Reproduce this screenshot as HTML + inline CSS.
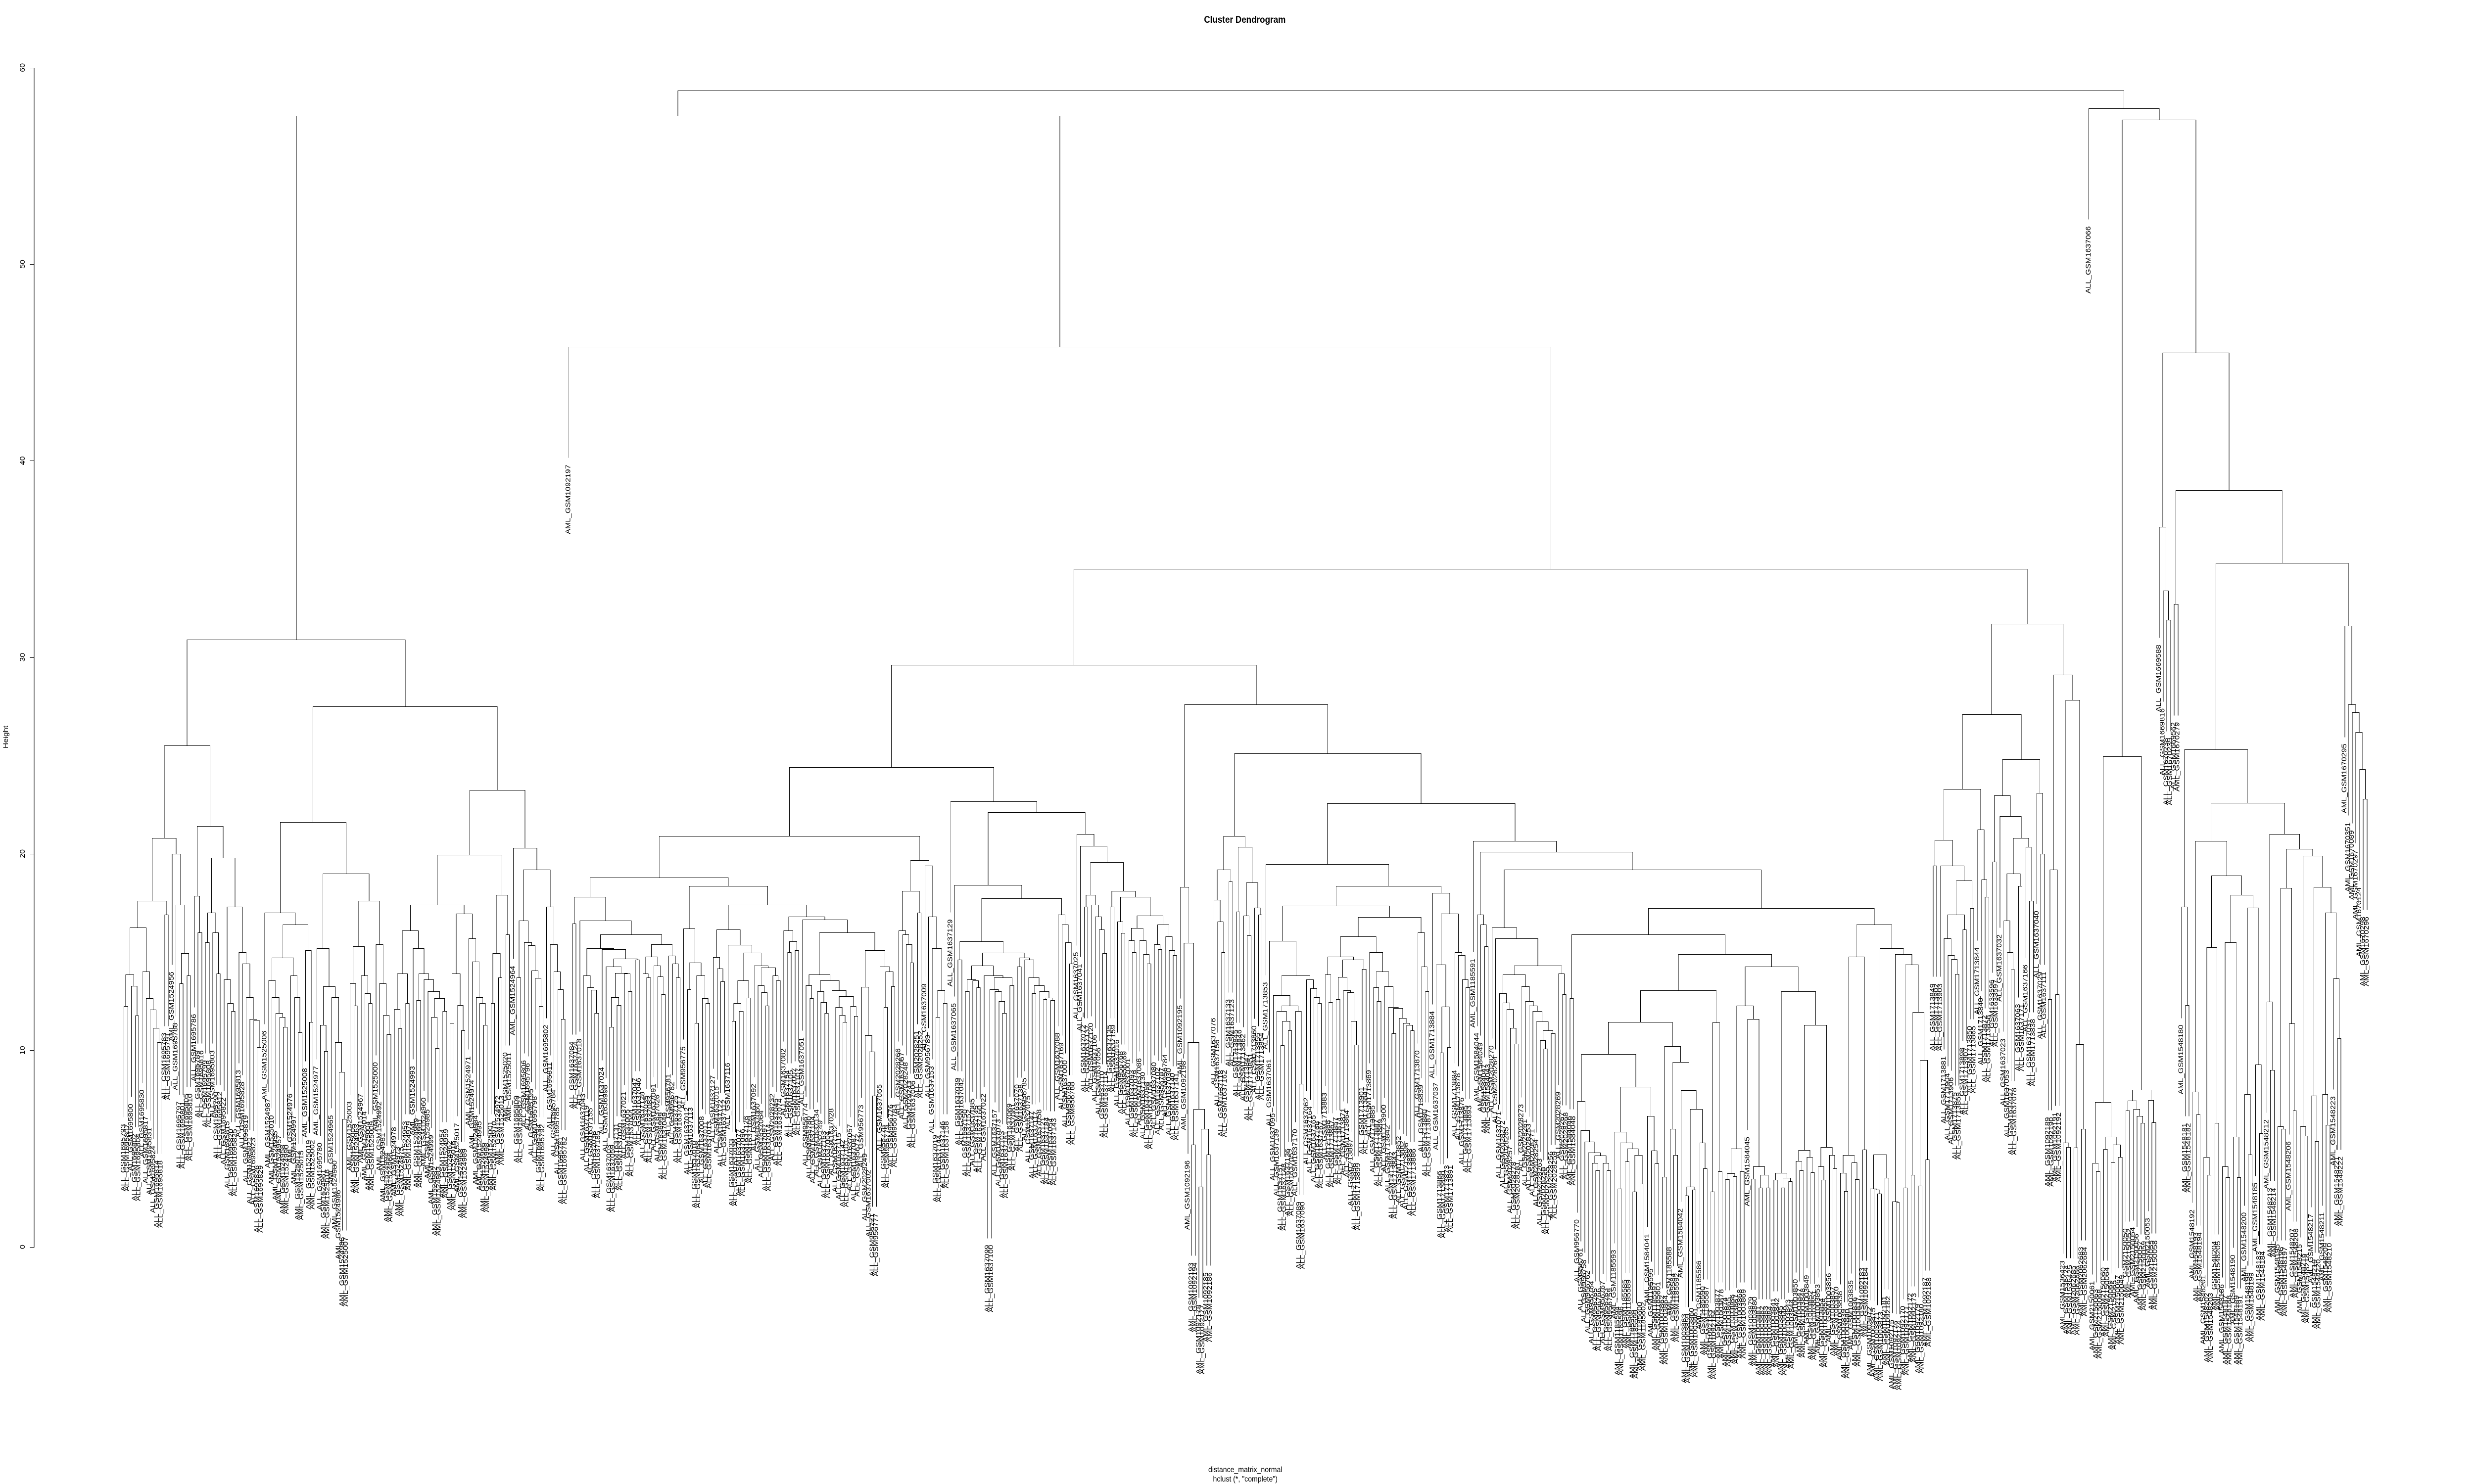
<!DOCTYPE html>
<html lang="en">
<head>
<meta charset="utf-8">
<title>Cluster Dendrogram</title>
<style>
html,body{margin:0;padding:0;background:#fff;width:100%;height:100%;overflow:hidden}
svg{display:block;width:100vw;height:100vh}
text{font-family:"Liberation Sans",sans-serif;fill:#000}
</style>
</head>
<body>
<svg id="chart" xmlns="http://www.w3.org/2000/svg" viewBox="0 0 5680 3000" preserveAspectRatio="none">
<rect width="5680" height="3000" fill="#fff"/>
<text x="2858" y="46" text-anchor="middle" font-size="19.4" font-weight="bold">Cluster Dendrogram</text>
<text x="2859" y="2976" text-anchor="middle" font-size="16">distance_matrix_normal</text>
<text x="2859" y="2995" text-anchor="middle" font-size="16">hclust (*, "complete")</text>
<text transform="translate(18 1490) rotate(-90)" text-anchor="middle" font-size="16">Height</text>
<g id="axis"></g>
<g id="branches" fill="none" stroke="#000" stroke-width="1" shape-rendering="crispEdges"></g>
<g id="labels" font-size="16"></g>
</svg>
<script>
const yTickValues=[0,10,20,30,40,50,60];
const leafLabels=("ALL_GSM1695793 ALL_GSM1695807 ALL_GSM1695800 ALL_GSM1695802 ALL_GSM1695804 ALL_GSM1695830 ALL_GSM1695817 ALL_GSM1695831 ALL_GSM1695824 ALL_GSM1695814 ALL_GSM1695818 ALL_GSM1695783 ALL_GSM1695791 AML_GSM1524956 ALL_GSM1695788 ALL_GSM1695797 ALL_GSM1695801 ALL_GSM1695805 ALL_GSM1695810 ALL_GSM1695786 ALL_GSM1695789 ALL_GSM1695816 ALL_GSM1695799 ALL_GSM1695808 ALL_GSM1695803 ALL_GSM1695790 ALL_GSM1695812 ALL_GSM1695822 ALL_GSM1695815 ALL_GSM1695820 ALL_GSM1695825 ALL_GSM1695813 ALL_GSM1695828 ALL_GSM1695819 ALL_GSM1695821 ALL_GSM1695823 ALL_GSM1695826 ALL_GSM1695829 "+
"AML_GSM1525006 AML_GSM1524987 AML_GSM1525010 AML_GSM1524955 AML_GSM1524957 AML_GSM1524958 AML_GSM1524990 AML_GSM1524976 AML_GSM1524997 AML_GSM1525012 AML_GSM1525015 AML_GSM1525008 AML_GSM1525019 AML_GSM1525002 AML_GSM1524977 ALL_GSM1695780 AML_GSM1524961 AML_GSM1525018 AML_GSM1524965 AML_GSM1524980 AML_GSM1524986 AML_GSM1524988 AML_GSM1525007 AML_GSM1525003 AML_GSM1525005 AML_GSM1524963 AML_GSM1524967 AML_GSM1525014 AML_GSM1525004 AML_GSM1525009 AML_GSM1525000 AML_GSM1524992 AML_GSM1524981 AML_GSM1524994 AML_GSM1524966 "+
"AML_GSM1524978 AML_GSM1524973 AML_GSM1524975 AML_GSM1524953 AML_GSM1524979 AML_GSM1524993 AML_GSM1524969 AML_GSM1524991 AML_GSM1524960 AML_GSM1524985 AML_GSM1524999 AML_GSM1524982 AML_GSM1524983 AML_GSM1524954 AML_GSM1524959 AML_GSM1524962 AML_GSM1525016 AML_GSM1525017 AML_GSM1524968 AML_GSM1524989 AML_GSM1524971 AML_GSM1524974 AML_GSM1524984 AML_GSM1524995 AML_GSM1524996 AML_GSM1524998 AML_GSM1525001 AML_GSM1524970 AML_GSM1524972 AML_GSM1525013 AML_GSM1525020 AML_GSM1525011 AML_GSM1524964 ALL_GSM1695809 ALL_GSM1695827 ALL_GSM1695806 ALL_GSM1695796 ALL_GSM1695795 ALL_GSM1695798 ALL_GSM1695794 ALL_GSM1695792 ALL_GSM1695802 ALL_GSM1695811 ALL_GSM1695784 ALL_GSM1695785 ALL_GSM1695781 ALL_GSM1695782 "+
"AML_GSM1092197 "+
"ALL_GSM1637084 ALL_GSM1637124 ALL_GSM1637018 ALL_GSM1637043 ALL_GSM1637119 ALL_GSM1637155 ALL_GSM1637036 ALL_GSM1637185 ALL_GSM1637024 ALL_GSM1636998 ALL_GSM1637003 ALL_GSM1637059 ALL_GSM1637131 ALL_GSM1637020 ALL_GSM1637021 ALL_GSM1637005 ALL_GSM1637044 ALL_GSM1637047 ALL_GSM1637046 ALL_GSM1637128 ALL_GSM1637035 ALL_GSM1637083 ALL_GSM1637091 ALL_GSM1637026 ALL_GSM1636999 ALL_GSM1637049 ALL_GSM956781 ALL_GSM956782 ALL_GSM1637125 ALL_GSM1637017 "+
"ALL_GSM956775 ALL_GSM1637012 ALL_GSM1637113 ALL_GSM1637010 ALL_GSM1637068 ALL_GSM1637008 ALL_GSM1637011 ALL_GSM1637013 ALL_GSM1637127 ALL_GSM1637015 ALL_GSM1637122 ALL_GSM1637112 ALL_GSM1637116 ALL_GSM1637033 ALL_GSM1637038 ALL_GSM1637077 ALL_GSM1637096 ALL_GSM1637126 ALL_GSM1637109 ALL_GSM1637092 ALL_GSM1637060 ALL_GSM1637064 ALL_GSM1637097 ALL_GSM1637014 ALL_GSM2028232 ALL_GSM1637045 ALL_GSM1637074 "+
"ALL_GSM1637082 ALL_GSM1637154 ALL_GSM1637105 ALL_GSM1637007 ALL_GSM1637107 ALL_GSM1637051 ALL_GSM956774 ALL_GSM956780 ALL_GSM1637104 ALL_GSM1637134 ALL_GSM1637149 ALL_GSM1637163 ALL_GSM1637004 ALL_GSM1637028 ALL_GSM1637132 ALL_GSM1637115 ALL_GSM1637142 ALL_GSM1637101 ALL_GSM1637057 ALL_GSM1637087 ALL_GSM956772 ALL_GSM956773 ALL_GSM2028249 ALL_GSM1637002 ALL_GSM956771 ALL_GSM956777 ALL_GSM1637055 ALL_GSM956778 ALL_GSM956779 ALL_GSM956776 ALL_GSM956783 "+
"ALL_GSM2028266 ALL_GSM1637067 ALL_GSM2028248 ALL_GSM2029243 ALL_GSM1637006 ALL_GSM2028251 ALL_GSM2028252 ALL_GSM1637009 ALL_GSM956789 ALL_GSM1637153 ALL_GSM1637019 ALL_GSM1637144 ALL_GSM1637146 ALL_GSM1637158 ALL_GSM1637129 "+
"ALL_GSM1637065 ALL_GSM1637039 ALL_GSM1637042 ALL_GSM1637150 ALL_GSM1637152 ALL_GSM1637085 ALL_GSM1637145 ALL_GSM1637160 ALL_GSM1637022 ALL_GSM1637099 ALL_GSM1637100 ALL_GSM1637157 ALL_GSM1637073 ALL_GSM1637103 ALL_GSM1637161 ALL_GSM1637069 ALL_GSM1637081 ALL_GSM1637070 ALL_GSM1637138 ALL_GSM956785 ALL_GSM1637075 ALL_GSM1637147 ALL_GSM1637117 ALL_GSM1637058 ALL_GSM1637121 ALL_GSM1637184 ALL_GSM1637054 ALL_GSM1637143 ALL_GSM1637088 ALL_GSM1637169 ALL_GSM1637000 ALL_GSM956786 ALL_GSM956788 "+
"ALL_GSM1637025 ALL_GSM1637041 ALL_GSM1637072 ALL_GSM1637137 ALL_GSM1637120 ALL_GSM1637106 ALL_GSM1637056 ALL_GSM1637110 ALL_GSM1637114 ALL_GSM1637135 ALL_GSM1637159 ALL_GSM1637016 ALL_GSM956768 ALL_GSM956769 ALL_GSM1637001 ALL_GSM1637093 ALL_GSM1637079 ALL_GSM1637086 ALL_GSM1637130 ALL_GSM1637098 ALL_GSM1637108 ALL_GSM1637080 ALL_GSM1637102 ALL_GSM956787 ALL_GSM956784 ALL_GSM1637030 ALL_GSM1637140 ALL_GSM1637141 "+
"AML_GSM1092195 AML_GSM1092198 AML_GSM1092196 AML_GSM1092193 AML_GSM1092194 AML_GSM1092178 AML_GSM1092177 AML_GSM1092185 AML_GSM1092186 "+
"ALL_GSM1637076 ALL_GSM1637156 ALL_GSM1637118 ALL_GSM1637162 ALL_GSM1637133 ALL_GSM1637123 ALL_GSM1713845 ALL_GSM1713846 ALL_GSM1713862 ALL_GSM1713847 ALL_GSM1713851 ALL_GSM1713860 ALL_GSM1713855 ALL_GSM1713854 ALL_GSM1713853 "+
"ALL_GSM1637061 ALL_GSM1637095 ALL_GSM1637139 ALL_GSM1637151 ALL_GSM1637148 ALL_GSM1637136 ALL_GSM1637052 ALL_GSM1637170 ALL_GSM1637089 ALL_GSM1637090 ALL_GSM1637062 ALL_GSM1637164 ALL_GSM1637165 ALL_GSM1637168 ALL_GSM1637167 "+
"ALL_GSM1713883 ALL_GSM1713868 ALL_GSM1713867 ALL_GSM1713857 ALL_GSM1713874 ALL_GSM1713871 ALL_GSM1713864 ALL_GSM1713897 ALL_GSM1713856 ALL_GSM1713899 ALL_GSM1713901 ALL_GSM1713841 ALL_GSM1713869 ALL_GSM1713885 ALL_GSM1713887 ALL_GSM1713889 ALL_GSM1713900 ALL_GSM1713842 ALL_GSM1713892 ALL_GSM1713843 ALL_GSM1713852 ALL_GSM1713882 ALL_GSM1713896 ALL_GSM1713888 ALL_GSM1713886 ALL_GSM1713870 ALL_GSM1713839 ALL_GSM1713880 ALL_GSM1713877 "+
"ALL_GSM1713884 ALL_GSM1637037 ALL_GSM1713866 ALL_GSM1713890 ALL_GSM1713873 ALL_GSM1713891 ALL_GSM1713894 ALL_GSM1713878 ALL_GSM1713876 ALL_GSM1713895 ALL_GSM1713893 "+
"AML_GSM1185591 AML_GSM1584044 AML_GSM1584049 AML_GSM1584047 AML_GSM1584043 ALL_GSM2028270 ALL_GSM2028264 ALL_GSM1637071 ALL_GSM2028272 ALL_GSM2028265 ALL_GSM2028257 ALL_GSM2028278 ALL_GSM2028281 ALL_GSM2028273 ALL_GSM2028261 ALL_GSM2028253 ALL_GSM2028271 ALL_GSM2028254 ALL_GSM2028263 ALL_GSM2028258 ALL_GSM2028255 ALL_GSM2028256 ALL_GSM2028259 ALL_GSM2028269 ALL_GSM2028267 ALL_GSM2028268 "+
"AML_GSM1584046 AML_GSM1584048 ALL_GSM956770 ALL_GSM956761 ALL_GSM956758 ALL_GSM956762 ALL_GSM956764 ALL_GSM956765 ALL_GSM956766 ALL_GSM956767 ALL_GSM956763 ALL_GSM956759 AML_GSM1185593 AML_GSM1185594 AML_GSM1185596 AML_GSM1185585 AML_GSM1185589 AML_GSM1185598 AML_GSM1185599 AML_GSM1185600 AML_GSM1185602 AML_GSM1584041 AML_GSM1185595 AML_GSM1185597 AML_GSM1185601 AML_GSM1003862 AML_GSM1003864 AML_GSM1185588 AML_GSM1185584 AML_GSM1185592 AML_GSM1584042 AML_GSM1003863 AML_GSM1003859 AML_GSM1003860 AML_GSM1003861 AML_GSM1185586 AML_GSM1185590 AML_GSM1185587 "+
"AML_GSM1092163 AML_GSM1092164 AML_GSM1003877 AML_GSM1003878 AML_GSM1003874 AML_GSM1003865 AML_GSM1003866 AML_GSM1003867 AML_GSM1003868 AML_GSM1003869 AML_GSM1584045 AML_GSM1003879 AML_GSM1003880 AML_GSM1003881 AML_GSM1003882 AML_GSM1003883 AML_GSM1003884 AML_GSM1003841 AML_GSM1003842 AML_GSM1003845 AML_GSM1003846 AML_GSM1003843 AML_GSM1003844 AML_GSM1003850 AML_GSM1003847 AML_GSM1003848 AML_GSM1003849 AML_GSM1003852 AML_GSM1003851 AML_GSM1003853 AML_GSM1003854 AML_GSM1003855 AML_GSM1003856 AML_GSM1003857 AML_GSM1003870 "+
"AML_GSM1003838 AML_GSM1003839 AML_GSM1003840 AML_GSM1003835 AML_GSM1003836 AML_GSM1003837 AML_GSM1092183 AML_GSM1092184 AML_GSM1003872 AML_GSM1003875 AML_GSM1003871 AML_GSM1003873 AML_GSM1092181 AML_GSM1092182 AML_GSM1092175 AML_GSM1092176 AML_GSM1092174 AML_GSM1092170 AML_GSM1092171 AML_GSM1092172 AML_GSM1092173 AML_GSM1092179 AML_GSM1092180 AML_GSM1092187 AML_GSM1092188 "+
"ALL_GSM1713849 ALL_GSM1713902 ALL_GSM1713903 ALL_GSM1713881 ALL_GSM1713904 ALL_GSM1713906 ALL_GSM1713875 ALL_GSM1713859 ALL_GSM1713898 ALL_GSM1713907 ALL_GSM1713850 ALL_GSM1713865 ALL_GSM1713844 ALL_GSM1713840 ALL_GSM1713872 ALL_GSM1713858 "+
"ALL_GSM1633596 ALL_GSM1633597 ALL_GSM1637032 ALL_GSM1637023 ALL_GSM1637053 ALL_GSM1637027 ALL_GSM1637078 ALL_GSM1637063 ALL_GSM1637171 ALL_GSM1637166 ALL_GSM1637031 ALL_GSM1713838 ALL_GSM1637040 ALL_GSM1637029 ALL_GSM1637111 "+
"AML_GSM1092189 AML_GSM1092190 AML_GSM1092191 AML_GSM1092192 AML_GSM1536423 AML_GSM1536424 AML_GSM1536425 AML_GSM2062685 AML_GSM2062686 AML_GSM2062683 AML_GSM2062684 ALL_GSM1637066 "+
"AML_GSM2150061 AML_GSM2150063 AML_GSM2150068 AML_GSM2150060 AML_GSM2150064 AML_GSM2150069 AML_GSM2150065 AML_GSM2150067 AML_GSM2150049 AML_GSM2150050 AML_GSM2150052 AML_GSM2150054 AML_GSM2150056 AML_GSM2150057 AML_GSM2150059 AML_GSM2150053 AML_GSM2150055 AML_GSM2150058 "+
"ALL_GSM1669588 ALL_GSM1669816 ALL_GSM1670238 ALL_GSM1670239 ALL_GSM1669562 AML_GSM1670279 AML_GSM1548180 AML_GSM1548181 AML_GSM1548182 AML_GSM1548192 AML_GSM1548193 AML_GSM1548194 AML_GSM1548201 AML_GSM1548202 AML_GSM1548203 AML_GSM1548204 AML_GSM1548205 AML_GSM1548186 AML_GSM1548187 AML_GSM1548188 AML_GSM1548190 AML_GSM1548189 AML_GSM1548191 AML_GSM1548200 AML_GSM1548198 AML_GSM1548199 AML_GSM1548185 AML_GSM1548183 AML_GSM1548184 AML_GSM1548212 AML_GSM1548213 AML_GSM1548214 AML_GSM1548195 AML_GSM1548196 AML_GSM1548197 AML_GSM1548206 AML_GSM1548207 AML_GSM1548208 AML_GSM1548215 AML_GSM1548216 AML_GSM1548218 AML_GSM1548217 AML_GSM1548219 AML_GSM1548220 AML_GSM1548211 AML_GSM1548209 AML_GSM1548210 AML_GSM1548223 AML_GSM1548221 AML_GSM1548222 "+
"AML_GSM1670295 AML_GSM1670351 AML_GSM1670089 AML_GSM1670297 AML_GSM1670124 AML_GSM1670298 AML_GSM1670296").split(" ");

// Merge heights as nested [height, left, right]; 0 marks the next leaf in dendrogram order.
const clusterA1=[25.5,
 [20.8,
  [17.6,
   [16.25,
    [13.86,[12.25,0,0],[13.28,0,[11.76,0,0]]],
    [14,0,[12.65,0,[12.07,0,[11.15,0,[10.4,0,0]]]]]],
   [16.9,0,0]],
  [20,0,[17.4,0,[14.94,[13.4,0,0],[13.8,0,0]]]]],
 [21.4,
  [17.85,0,[16,0,0]],
  [19.8,
   [17,[15.5,0,0],[16,0,[13.9,0,0]]],
   [17.3,
    [13.6,0,[12.4,0,[12,0,0]]],
    [15,0,[14.4,0,[12.7,0,[11.6,0,[11.55,0,[10.15,0,0]]]]]]]]]];
const clusterB=[21.6,
 [17,0,[16.4,
  [14.7,
   [13.55,0,[12.7,0,[11.9,0,[11.7,0,[11.2,0,0]]]]],
   [13.8,0,[12.7,0,[10.9,0,0]]]],
  [15.1,0,[11.44,0,0]]]],
 [19,
  [15.2,0,[13.25,
   [11.3,0,[9.95,0,0]],
   [12.7,0,[10.4,0,[8.9,0,[6.5,0,0]]]]]],
  [17.6,
   [15.3,
    [13.4,0,[12.26,0,0]],
    [13.8,0,[12.9,0,[12.4,0,0]]]],
   [15.4,0,[13.4,0,[11.8,0,[10.8,0,0]]]]]]];
const clusterC=[23.25,
 [19.95,
  [17.4,
   [16.1,
    [13.9,[12.1,0,[11.1,0,0]],[12.4,0,0]],
    [15.2,0,[13.9,[12.55,0,0],[13.6,0,[13,0,[12.65,[11.7,0,[10.1,0,0]],[12,0,0]]]]]]],
   [16.95,
    [13.9,[11.4,0,0],[12.3,0,[11,0,0]]],
    [15.7,0,[14.5,0,[12.7,0,[12.4,0,[11.3,0,0]]]]]]],
  [17.9,[14.95,[12.4,0,0],[13.7,0,0]],[15.9,0,0]]],
 [20.3,0,[19.2,
  [16.6,[13.7,0,0],[15.5,0,[15.35,0,[14.05,0,[13.67,0,[12.25,0,0]]]]]],
  [17.3,0,[15.4,0,[14,0,[13.1,0,[11.6,0,0]]]]]]]];
const clusterD1a=[17.8,[16.45,0,0],[16.6,0,[15.9,
 [15.2,
  [13.8,0,[13.2,0,[13.07,0,[11.9,0,0]]]],
  [15.15,0,[14.65,
   [14.25,0,[13.94,[12.7,[11.2,0,0],[12.3,0,0]],[13.9,0,[13,0,0]]]],
   [14.6,0,0]]]],
 [15.4,
  [14.75,[13.9,0,[13.7,0,0]],[14.3,0,[13.75,0,[12.85,0,0]]]],
  [14.8,0,[14.4,0,[13.7,0,0]]]]]]];
const clusterD1b=[18.35,
 [16.2,0,[14.46,[13.1,0,0],[13.8,[11.4,0,0],[12.65,0,[12.4,0,0]]]]],
 [17.4,
  [16.15,
   [14.73,0,[14.17,0,[13.5,0,0]]],
   [15.37,0,[14.96,
    [13.55,[12.4,[11.5,0,0],[12,0,0]],[12.67,0,0]],
    [14.3,0,[14.2,[13.3,0,[12.94,0,[12.26,0,0]]],[13.8,0,[13.55,0,0]]]]]]],
  [16.8,
   [16.1,0,[15.54,[15,0,0],[15.1,0,0]]],
   [16.66,0,[16,
    [13.85,
     [13.3,0,[12.65,0,0]],
     [13.55,[13,0,[12.44,0,[11.9,0,0]]],[13.05,0,[12.75,[12.2,0,[11.8,0,[11.45,0,0]]],[12.25,0,[11.75,0,0]]]]]],
    [15.1,
     [13.23,0,[10.76,0,[9.93,0,[7.7,0,0]]]],
     [14.27,0,[14,[12.2,0,0],[13.25,0,0]]]]]]]]];
const clusterD1c=[19.66,
 [18.1,[16.1,0,[15.9,0,[15.4,0,[14.46,0,0]]]],[17,0,0]],
 [19.4,0,[16.8,0,[15.2,0,[13.05,[11.7,0,0],[12.4,0,0]]]]]];
const clusterD2a=[18.4,0,[17.74,
 [15.54,
  [14.6,0,0],
  [14.96,
   [14.3,
    [13.6,[13,0,0],[13.55,0,[13.2,0,0]]],
    [13.8,0,[13.7,
     [13.1,[6.1,0,0],[13,0,[12.5,0,[11.9,0,0]]]],
     [13.3,0,0]]]],
   [14.7,[14.27,0,0],[14.6,0,[13.7,0,[13.3,[12.9,0,0],[13,0,[12.67,[12.6,0,0],[12.55,0,0]]]]]]]]],
 [16.9,0,[16.4,0,[15.5,0,[14.4,0,0]]]]]];
const clusterD2b=[21,0,[20.4,0,[19.56,
 [17.9,[17.3,0,0],[17.4,0,[16.8,0,[16.14,0,[14.95,0,0]]]]],
 [18.1,[17.3,0,0],[17.8,
  [16.55,0,[15.96,0,0]],
  [16.84,
   [16.23,[15.6,0,[15,0,0]],[15.6,0,[14.9,0,[14.4,0,0]]]],
   [16.4,[15.4,0,[15.13,0,0]],[15.8,0,[15.1,0,[14.85,0,0]]]]]]]]]];
const clusterE1=[18.3,0,[15.47,0,[10.4,0,[7,[5.2,0,0],[6,[3.06,0,0],[4.7,0,0]]]]]];
const clusterF1=[20.9,
 [19.2,[17.65,0,[16.55,0,[15,0,0]]],[18.6,0,0]],
 [20.34,[17.06,0,0],[18.54,[16.84,0,[15.85,0,0]],[17.26,0,[16.9,0,0]]]]];
const clusterF2=[19.47,0,[18.37,
 [17.35,
  [15.56,0,[13.8,
   [12.8,0,[12.27,[12,0,[11.5,[10.25,0,0],[11,0,0]]],[12,0,[8.3,0,0]]]],
   [13.6,0,[13.15,0,[12.7,0,[12.4,0,0]]]]]],
  [16.77,
   [15.8,
    [14.77,
     [13.85,0,[12.45,0,0]],
     [14.6,
      [13.74,[12.6,0,0],[13.06,0,[12.96,0,[11.5,0,[10.27,0,0]]]]],
      [14.14,0,0]]],
    [15,0,[14,
     [13.2,0,[12.5,0,0]],
     [13.24,0,[12.2,0,[12.15,[10.85,0,0],[11.64,0,[11.4,0,[11.3,0,[11,0,0]]]]]]]]]],
   [16,0,[14.25,0,[13,0,0]]]]],
 [18,0,[16.95,
  [14.36,0,[12.23,[9.87,0,0],[10.16,0,0]]],
  [15,0,[14.84,0,[13.6,0,[13.2,0,0]]]]]]]];
const clusterF3a=[16.25,0,[15.7,0,[14.3,
 [13.85,
  [12.9,0,[12.43,0,[12.1,0,[11.13,0,[10.34,0,0]]]]],
  [13.26,0,[12.5,0,[12.27,0,[12,0,[11.47,0,[11,[10.5,0,[10.07,0,0]],[10.86,0,0]]]]]]]],
 [13.9,0,[12.85,0,0]]]]];
const clusterF3b=[17.24,
 [15.9,[12.66,0,0],[14.9,
  [13.04,
   [11.44,
    [9.8,
     [7.4,0,[5.94,0,[5.35,0,[4.8,0,[4.64,[4.27,0,[3.9,0,0]],[4.27,0,[3.9,0,0]]]]]]],
     [8.14,
      [5.85,0,[5.3,[2.97,0,0],[5,[4.34,0,0],[4.67,[2.8,0,0],[3.2,0,0]]]]],
      [6.66,0,[4.9,0,[4.23,0,0]]]]],
    [10.2,[3.55,0,0],[9.4,[6,0,[4.67,0,0]],[7.96,0,[7,[3.06,[2.6,0,0],[2.9,0,0]],[5.3,0,[4,0,0]]]]]]],
   [11.42,[2.8,0,0],[3.85,0,0]]],
  [14.25,
   [12.27,
    [5,[3.73,[3.44,0,0],[3.58,0,0]],[3.85,0,0]],
    [11.6,0,[4.1,[3.47,0,0],[3.67,[3,0,0],[3,0,0]]]]],
   [13,
    [3.76,[3.4,0,0],[3.5,[3,0,0],[3.33,0,0]]],
    [11.3,
     [4.93,[4.36,0,[3.9,0,0]],[4.57,0,[3.78,0,0]]],
     [5.08,[4.1,0,[3.4,0,0]],[4.67,0,[3.98,0,0]]]]]]]],
 [16.4,
  [14.77,[4.67,[3.76,0,[2.84,0,0]],[4.3,0,[3.44,0,0]]],[4.95,0,0]],
  [15.2,
   [4.7,[2.95,0,[2.9,0,[2.7,0,0]]],[3.5,0,0]],
   [14.9,
    [2.3,0,[2.25,0,0]],
    [14.35,[3,0,0],[11.94,[3.65,0,0],[9.5,[3.1,0,0],[4.45,0,0]]]]]]]];
const clusterG1=[23.3,
 [20.7,[19.4,0,0],[19.4,0,[18.63,
  [16.9,[15.7,0,[14.84,0,[14.63,0,[13.87,0,0]]]],[16.14,0,0]],
  [17.24,0,0]]]],
 [21.24,0,[18.68,0,[17.8,0,0]]]];
const clusterG2=[24.8,
 [22.96,[19.6,0,0],[21.9,0,[20.8,
  [19,[16.6,0,[15,0,[14.1,0,0]]],[18.36,0,0]],
  [20.36,0,[17.6,0,0]]]]],
 [23.1,0,[20,0,0]]];
const clusterG3=[29.1,[19.2,[12.6,0,0],[12.84,0,0]],[27.83,[5.3,0,[5.08,0,0]],[10.3,[5.05,0,0],[6,0,0]]]];
const clusterH=[24.96,
 [7.37,[4.26,0,[3.85,0,0]],[5.6,[4.96,0,0],[5.2,[4.3,0,0],[4.57,0,0]]]],
 [8,[7.44,[6.94,0,0],[7,0,[6.67,0,[6.3,0,0]]]],[7.47,0,[6.33,0,0]]]];
const clusterJ1=[25.3,
 [17.3,0,[12.3,0,0]],
 [22.6,
  [20.65,
   [7.9,0,[6.74,0,0]],
   [18.9,
    [15.25,[4.57,0,[3.66,0,0]],[6.3,0,0]],
    [17.9,
     [15.5,[4.1,0,[3.54,0,0]],[5.6,0,[3.54,0,0]]],
     [17.25,[7.76,0,[4.7,0,0]],[9.27,0,[5.78,0,0]]]]]],
  [21,
   [12.48,0,[9,0,0]],
   [20.26,
    [18.26,[6.14,0,[6,0,0]],[11.37,0,[6.94,0,0]]],
    [19.9,
     [6.14,0,[5.66,0,0]],
     [18.3,[7.68,0,[5.37,0,0]],[17,[7.76,0,[6.2,0,0]],[13.66,0,[10.6,0,0]]]]]]]]];
const clusterJ=[45.5,
 [36.64,0,[33.4,0,[31.9,0,0]]],
 [38.5,[32.7,0,0],[34.8,clusterJ1,[31.6,0,[27.6,0,[27.2,0,[26.2,0,[24.3,0,[22.8,0,0]]]]]]]]];
const mergeTree=[58.83,
 [57.55,
  [30.9,clusterA1,[27.5,clusterB,clusterC]],
  [45.8,0,[34.5,
   [29.6,
    [24.4,
     [20.9,[18.8,clusterD1a,clusterD1b],clusterD1c],
     [22.67,0,[22.1,clusterD2a,clusterD2b]]],
    [27.6,clusterE1,[25.1,clusterF1,[22.57,clusterF2,[20.66,0,[20.1,[16.9,0,[16.4,0,[15.3,0,0]]],[19.2,clusterF3a,clusterF3b]]]]]]],
   [31.7,[27.1,clusterG1,clusterG2],clusterG3]]]],
 [57.93,0,[57.35,clusterH,clusterJ]]];
const leafHang=5.65;

const SVG_NS='http://www.w3.org/2000/svg';
const yScale=h=>2520.5-h*39.73;
const xScale=i=>284+i*8.512;
const crisp=v=>Math.round(v)+0.5;
const branches=document.getElementById('branches');
const labelsGroup=document.getElementById('labels');
const axisGroup=document.getElementById('axis');

function drawAxis(){
  const line=document.createElementNS(SVG_NS,'line');
  
  
  const top=yScale(yTickValues[yTickValues.length-1]), bottom=yScale(yTickValues[0]);
  line.setAttribute('x1',78.5);line.setAttribute('x2',78.5);
  line.setAttribute('y1',crisp(top));line.setAttribute('y2',crisp(bottom));
  line.setAttribute('stroke','#000');line.setAttribute('shape-rendering','crispEdges');
  axisGroup.appendChild(line);
  yTickValues.forEach(v=>{
    const y=yScale(v);
    const tick=document.createElementNS(SVG_NS,'line');
    
    
    tick.setAttribute('x1',69);tick.setAttribute('x2',79);
    tick.setAttribute('y1',crisp(y));tick.setAttribute('y2',crisp(y));
    tick.setAttribute('stroke','#000');tick.setAttribute('shape-rendering','crispEdges');
    axisGroup.appendChild(tick);
    const t=document.createElementNS(SVG_NS,'text');
    
    
    t.setAttribute('transform','translate(57 '+y+') rotate(-90)');
    t.setAttribute('text-anchor','middle');
    t.setAttribute('font-size','16');
    t.textContent=String(v);
    axisGroup.appendChild(t);
  });
}

let nextLeaf=0;
function drawLeafLabel(i,x,stemEnd){
  const t=document.createElementNS(SVG_NS,'text');
  
  
  t.setAttribute('transform','translate('+(x+4)+' '+(stemEnd+14)+') rotate(-90)');
  t.setAttribute('text-anchor','end');
  t.textContent=leafLabels[i]||'';
  labelsGroup.appendChild(t);
}
function layout(node){
  if(node===0){
    const i=nextLeaf++;
    return {x:xScale(i),leaf:i};
  }
  const l=layout(node[1]), r=layout(node[2]), h=node[0], top=yScale(h);
  const lEnd=l.leaf!==undefined?yScale(h-leafHang):yScale(l.h);
  const rEnd=r.leaf!==undefined?yScale(h-leafHang):yScale(r.h);
  const p=document.createElementNS(SVG_NS,'path');
  
  
  p.setAttribute('d','M'+crisp(l.x)+' '+crisp(lEnd)+'V'+crisp(top)+'H'+crisp(r.x)+'V'+crisp(rEnd));
  branches.appendChild(p);
  if(l.leaf!==undefined)drawLeafLabel(l.leaf,l.x,lEnd);
  if(r.leaf!==undefined)drawLeafLabel(r.leaf,r.x,rEnd);
  return {x:(l.x+r.x)/2,h:h};
}
drawAxis();
layout(mergeTree);
</script>
</body>
</html>
